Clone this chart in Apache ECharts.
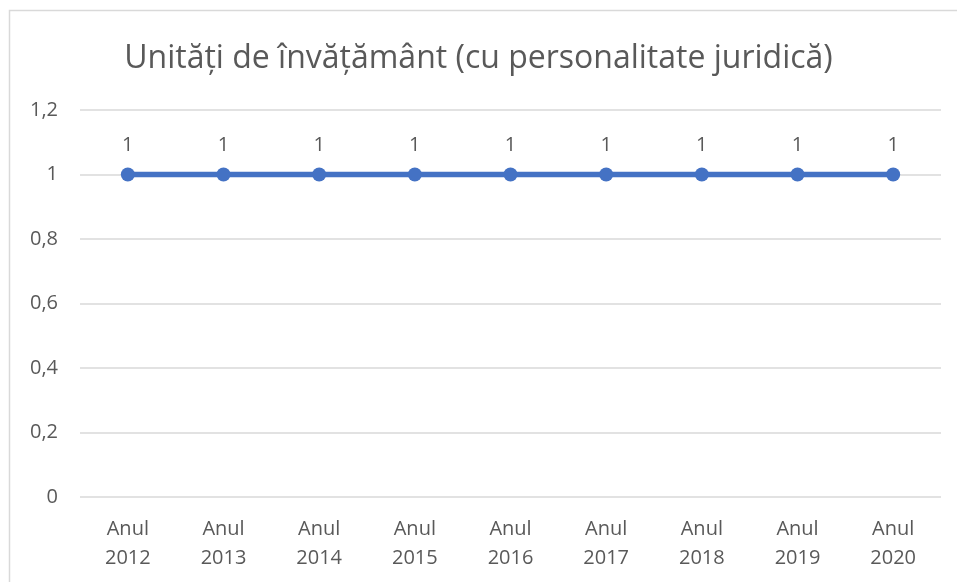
<!DOCTYPE html>
<html style="height: 100%">
<head>
    <meta charset="utf-8">
    <title>Unități de învățământ</title>
    <script src="https://cdn.jsdelivr.net/npm/echarts@6/dist/echarts.min.js"></script>
</head>
<body style="height: 100%; margin: 0; background: #fff">
<div id="container" style="width: 957px; height: 582px"></div>
<script type="text/javascript">
    var titleText = 'Unități de învățământ (cu personalitate juridică)';
    var years = ['Anul\n2012', 'Anul\n2013', 'Anul\n2014', 'Anul\n2015', 'Anul\n2016',
                 'Anul\n2017', 'Anul\n2018', 'Anul\n2019', 'Anul\n2020'];
    var unitati = [1, 1, 1, 1, 1, 1, 1, 1, 1];

    var font = '"Open Sans", "Noto Sans", sans-serif';
    var grey = '#595959';

    var myChart = echarts.init(document.getElementById('container'));
    var option = {
        backgroundColor: '#fff',
        animation: false,
        graphic: [{
            type: 'rect',
            shape: { x: 9.5, y: 10.5, width: 1000, height: 700 },
            style: { fill: 'none', stroke: '#d9d9d9', lineWidth: 1.5 },
            silent: true
        }],
        title: {
            text: titleText,
            left: 'center',
            top: 38,
            textStyle: { color: grey, fontFamily: font, fontSize: 32, fontWeight: 'normal' }
        },
        grid: { left: 80, right: 16, top: 110, bottom: 85 },
        xAxis: {
            type: 'category',
            data: years,
            boundaryGap: true,
            axisLine: { show: false },
            axisTick: { show: false },
            axisLabel: {
                color: grey, fontFamily: font, fontSize: 20, lineHeight: 29, margin: 18
            }
        },
        yAxis: {
            type: 'value',
            min: 0,
            max: 1.2,
            interval: 0.2,
            axisLine: { show: false },
            axisTick: { show: false },
            splitLine: { lineStyle: { color: '#d9d9d9', width: 1.5 } },
            axisLabel: {
                color: grey, fontFamily: font, fontSize: 20, margin: 22,
                formatter: function (v) {
                    return String(Math.round(v * 10) / 10).replace('.', ',');
                }
            }
        },
        series: [{
            type: 'line',
            data: unitati,
            symbol: 'circle',
            symbolSize: 14,
            lineStyle: { color: '#4472C4', width: 5.5 },
            itemStyle: { color: '#4472C4' },
            label: {
                show: true,
                position: 'top',
                distance: 12,
                color: grey,
                fontFamily: font,
                fontSize: 20
            }
        }]
    };
    myChart.setOption(option, true);
</script>
</body>
</html>
